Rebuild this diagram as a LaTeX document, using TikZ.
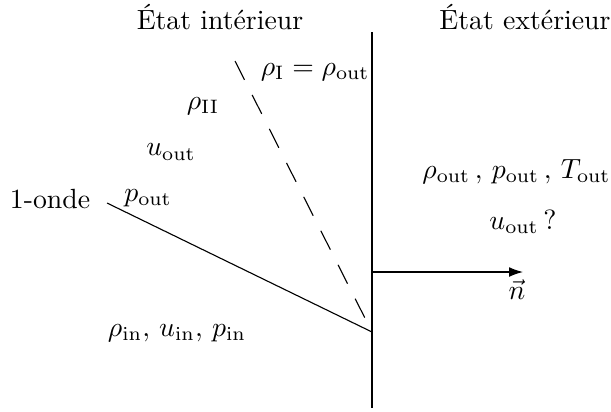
\documentclass[tikz,border=0pt]{standalone}
\usetikzlibrary{arrows.meta}
\begin{document}
\begin{tikzpicture}[x=0.36pt,y=-0.36pt,
  lbl/.style={inner sep=0pt},
  wall/.style={line width=1.05pt},
  wave/.style={line width=0.4pt},
  contact/.style={line width=0.4pt,dash pattern=on 7.6pt off 6.1pt},
  normal/.style={line width=0.4pt,-{Latex[length=5pt,width=3.5pt]}}]
\useasboundingbox (0,0) rectangle (611,411);
\coordinate (wt) at (372,32);
\coordinate (wb) at (372,408);
\coordinate (foot) at (372,332);
\coordinate (w1) at (107,203);
\coordinate (c1) at (235,61);
\coordinate (nA) at (372,272);
\coordinate (nB) at (523,272);
\draw[wall] (wt) -- (wb);
\draw[wave] (w1) -- (foot);
\draw[contact] (c1) -- (foot);
\draw[normal] (nA) -- (nB);
\node[lbl] (tin) at (220,17) {\'Etat int\'erieur};
\node[lbl] (tout) at (525,17) {\'Etat ext\'erieur};
\node[lbl,anchor=east] (rI) at (370,72) {$\rho_{\mathrm{I}}=\rho_{\mathrm{out}}$};
\node[lbl] (rII) at (203,106) {$\rho_{\mathrm{II}}$};
\node[lbl] (uo) at (171,152) {$u_{\mathrm{out}}$};
\node[lbl] (onde) at (50,199) {1-onde};
\node[lbl] (po) at (148,198) {$p_{\mathrm{out}}$};
\node[lbl,anchor=east] (ext) at (611,172) {$\rho_{\mathrm{out}}\,,\,p_{\mathrm{out}}\,,\,T_{\mathrm{out}}$};
\node[lbl] (uq) at (523,222) {$u_{\mathrm{out}}\,?$};
\node[lbl] (n) at (517,290) {$\vec{n}$};
\node[lbl] (inn) at (177,333) {$\rho_{\mathrm{in}},\,u_{\mathrm{in}},\,p_{\mathrm{in}}$};
\end{tikzpicture}
\end{document}
